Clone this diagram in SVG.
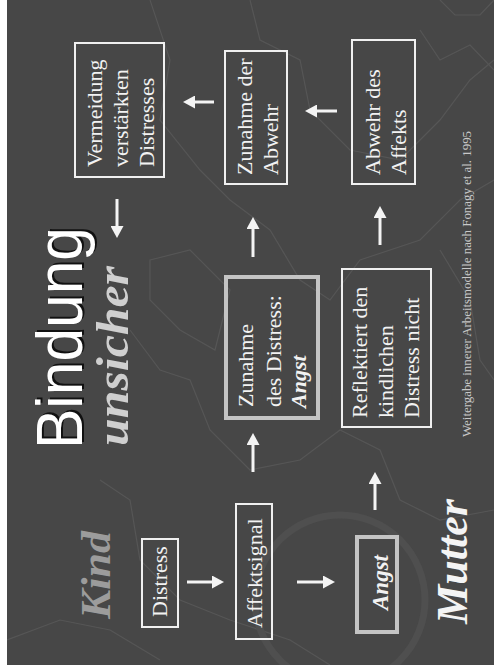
<svg xmlns="http://www.w3.org/2000/svg" width="494" height="671" viewBox="0 0 494 671">
<style>
.bx{fill:none;stroke:#f0f0f0;stroke-width:2}
.bxg{fill:none;stroke:#c4c4c4;stroke-width:4}
.t{font-family:"Liberation Serif",serif;font-size:22px;fill:#f2f2f2}
.ti{font-family:"Liberation Serif",serif;font-size:22px;font-weight:bold;font-style:italic;fill:#f2f2f2}
.ar{stroke:#f4f4f4;stroke-width:3;fill:none;marker-end:url(#ah)}
.bg{fill:none;stroke:#565656;stroke-width:1.2}
</style>
<defs>
<marker id="ah" markerUnits="userSpaceOnUse" markerWidth="12" markerHeight="13" refX="0" refY="6.5" orient="auto">
<path d="M0,0 L12,6.5 L0,13 z" fill="#f4f4f4"/>
</marker>
<clipPath id="bgclip"><rect x="7" y="0" width="487" height="665"/></clipPath>
</defs>
<rect x="0" y="0" width="494" height="671" fill="#ffffff"/>
<rect x="7" y="0" width="487" height="665" fill="#474747"/>
<g id="background-texture" clip-path="url(#bgclip)">
<path class="bg" d="M150,0 L170,60 L160,120 L200,170 L230,200 L270,230 L300,280 L330,300 L360,260 L420,240 L460,200 L494,180"/>
<path class="bg" d="M250,0 L260,40 L300,60 L310,110 L350,150 L400,160 L440,120 L470,80 L494,60"/>
<path class="bg" d="M440,0 L455,15 L480,15 L494,0"/>
<path class="bg" d="M420,30 L440,60 L470,45 L494,70"/>
<path class="bg" d="M150,260 L190,250 L230,290 L215,350 L180,330 L150,300 z"/>
<path class="bg" d="M130,330 L160,370 L190,380 L210,430 L250,470 L300,460 L340,430 L380,450 L400,500 L440,520 L494,510"/>
<path class="bg" d="M100,480 L130,500 L140,560 L180,600 L230,620 L290,640 L330,665"/>
<path class="bg" d="M7,640 L60,620 L110,630 L160,660"/>
<path class="bg" d="M440,250 L470,300 L480,360 L494,380"/>
<circle cx="340" cy="600" r="85" fill="none" stroke="#4f4f4f" stroke-width="7"/>
</g>
<g id="connectors">
<line class="ar" x1="214" y1="102" x2="195" y2="102"/>
<line class="ar" x1="337" y1="111" x2="317" y2="111"/>
<line class="ar" x1="117" y1="199" x2="117" y2="226"/>
<line class="ar" x1="253" y1="257" x2="253" y2="229"/>
<line class="ar" x1="380" y1="245" x2="380" y2="218"/>
<line class="ar" x1="253" y1="472" x2="253" y2="445"/>
<line class="ar" x1="375" y1="510" x2="375" y2="484"/>
<line class="ar" x1="187" y1="582" x2="212" y2="582"/>
<line class="ar" x1="297" y1="582" x2="323" y2="582"/>
</g>
<g id="title">
<text transform="translate(84,447) rotate(-90)" textLength="222" lengthAdjust="spacingAndGlyphs" style="font-family:'Liberation Sans',sans-serif;font-size:64px;fill:#111111">Bindung</text>
<text transform="translate(82,449) rotate(-90)" textLength="222" lengthAdjust="spacingAndGlyphs" style="font-family:'Liberation Sans',sans-serif;font-size:64px;fill:#ffffff">Bindung</text>
<text transform="translate(128,446) rotate(-90)" textLength="180" lengthAdjust="spacingAndGlyphs" style="font-family:'Liberation Serif',serif;font-size:47px;font-weight:bold;font-style:italic;fill:#cfcfcf">unsicher</text>
</g>
<g id="label-kind">
<text transform="translate(110,619) rotate(-90)" textLength="88" lengthAdjust="spacingAndGlyphs" style="font-family:'Liberation Serif',serif;font-size:43px;font-weight:bold;font-style:italic;fill:#9c9c9c">Kind</text>
</g>
<g id="label-mutter">
<text transform="translate(467,624) rotate(-90)" textLength="125" lengthAdjust="spacingAndGlyphs" style="font-family:'Liberation Serif',serif;font-size:45px;font-weight:bold;font-style:italic;fill:#f4f4f4">Mutter</text>
</g>
<g id="node-vermeidung">
<rect class="bx" x="75" y="43" width="89" height="134"/>
<text class="t" transform="translate(102,167) rotate(-90)">Vermeidung</text>
<text class="t" transform="translate(128,167) rotate(-90)">verstärkten</text>
<text class="t" transform="translate(154,167) rotate(-90)">Distresses</text>
</g>
<g id="node-zunahme-abwehr">
<rect class="bx" x="225" y="51" width="62" height="133"/>
<text class="t" transform="translate(252,175) rotate(-90)">Zunahme der</text>
<text class="t" transform="translate(278,175) rotate(-90)">Abwehr</text>
</g>
<g id="node-abwehr-affekt">
<rect class="bx" x="352" y="40" width="63" height="144"/>
<text class="t" transform="translate(380,175) rotate(-90)">Abwehr des</text>
<text class="t" transform="translate(406,175) rotate(-90)">Affekts</text>
</g>
<g id="node-zunahme-distress">
<rect class="bxg" x="226" y="277" width="92" height="141"/>
<text class="t" transform="translate(253,407) rotate(-90)">Zunahme</text>
<text class="t" transform="translate(281,407) rotate(-90)">des Distress:</text>
<text class="ti" transform="translate(306,408) rotate(-90)">Angst</text>
</g>
<g id="node-reflektiert">
<rect class="bx" x="342" y="269" width="89" height="158"/>
<text class="t" transform="translate(367,418) rotate(-90)">Reflektiert den</text>
<text class="t" transform="translate(393,418) rotate(-90)">kindlichen</text>
<text class="t" transform="translate(419,418) rotate(-90)">Distress nicht</text>
</g>
<g id="node-distress">
<rect class="bx" x="142" y="539" width="36" height="88"/>
<text class="t" transform="translate(167,617) rotate(-90)">Distress</text>
</g>
<g id="node-affektsignal">
<rect class="bx" x="236" y="504" width="36" height="135"/>
<text class="t" transform="translate(262,628) rotate(-90)">Affektsignal</text>
</g>
<g id="node-angst">
<rect class="bxg" x="357" y="537" width="40" height="95"/>
<text class="ti" transform="translate(388,610) rotate(-90)" style="font-size:23px">Angst</text>
</g>
<g id="footnote">
<text transform="translate(471,437) rotate(-90)" textLength="306" lengthAdjust="spacingAndGlyphs" style="font-family:'Liberation Serif',serif;font-size:12px;fill:#c8c8c8">Weitergabe innerer Arbeitsmodelle nach Fonagy et al. 1995</text>
</g>
</svg>
